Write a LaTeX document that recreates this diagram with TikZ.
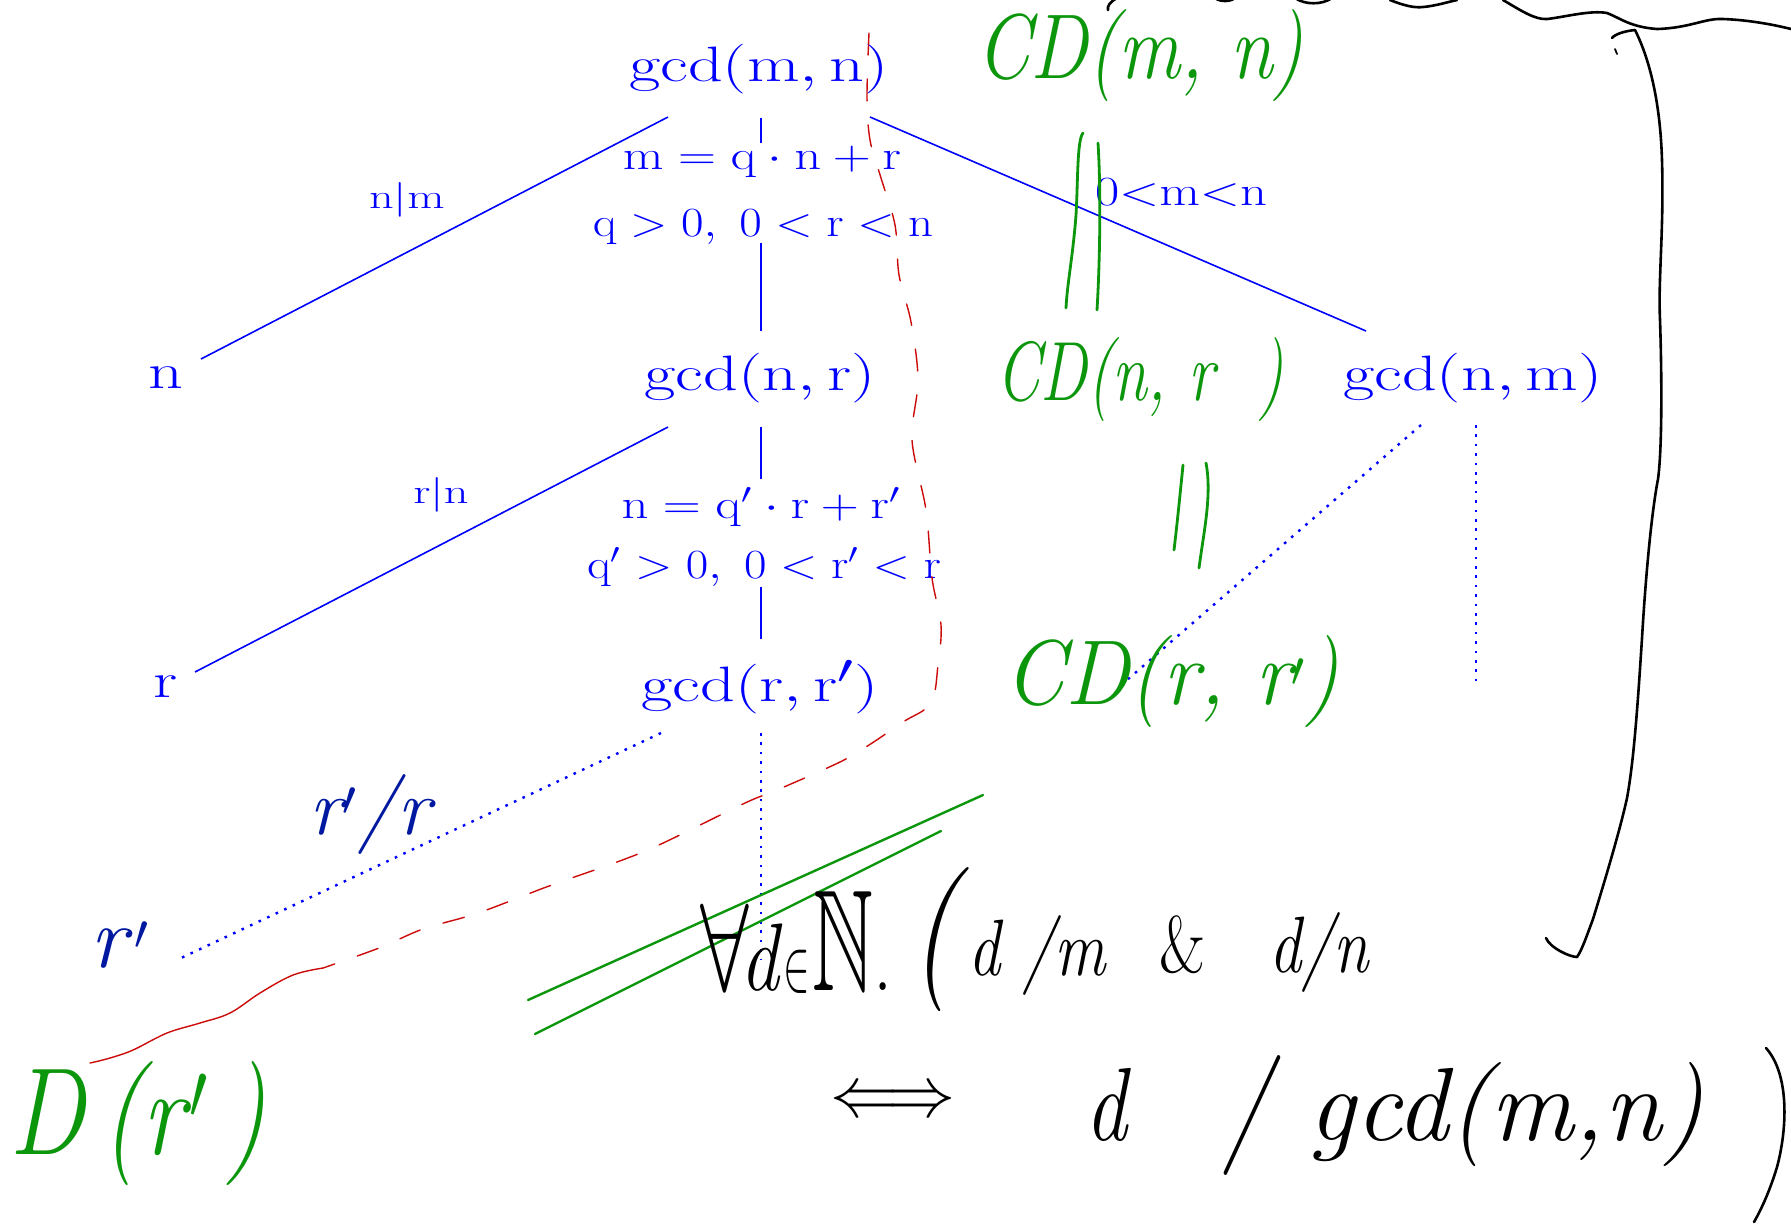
\documentclass[tikz,border=0pt]{standalone}
\usepackage{amssymb}
\usepackage{graphicx}
\definecolor{tblue}{RGB}{0,0,255}
\definecolor{hnavy}{RGB}{0,25,160}
\definecolor{hgreen}{RGB}{12,150,12}
\definecolor{hred}{RGB}{205,10,10}
\newcommand{\ur}[1]{\mathrm{#1}}
\begin{document}
\begin{tikzpicture}[x=0.5pt,y=-0.5pt,
  tree/.style={draw=tblue, line width=0.8pt},
  dotline/.style={draw=tblue, line width=1.2pt, dash pattern=on 1.3pt off 3.4pt},
  big/.style={text=tblue, inner sep=0pt, xscale=1.37, font=\fontsize{30}{34}\selectfont},
  eqn/.style={text=tblue, inner sep=0pt, xscale=1.27, font=\fontsize{20}{24}\selectfont},
  lab/.style={text=tblue, inner sep=0pt, xscale=1.4, font=\fontsize{16}{19}\selectfont},
  hwg/.style={text=hgreen, inner sep=0pt},
  hwb/.style={text=hnavy, inner sep=0pt},
  hwk/.style={text=black, inner sep=0pt},
  gstroke/.style={draw=hgreen, line width=1.4pt, line cap=round},
  kstroke/.style={draw=black, line width=1.3pt, line cap=round, line join=round},
  rstroke/.style={draw=hred, line width=0.7pt, line cap=round}]
\fill[white] (0,0) rectangle (1791,1223);
\useasboundingbox (0,0) rectangle (1791,1223);

% ---------------- typeset tree nodes ----------------
\node[big] (gm) at (759,69) {$\ur{gcd}(\ur{m},\ur{n})$};
\node[big] (n) at (166,378) {$\ur{n}$};
\node[big] (gnr) at (760,378) {$\ur{gcd}(\ur{n},\ur{r})$};
\node[big] (gnm) at (1473,378) {$\ur{gcd}(\ur{n},\ur{m})$};
\node[big] (r) at (166,687) {$\ur{r}$};
\node[big] (grr) at (760,687) {$\ur{gcd}(\ur{r},\ur{r}')$};

\node[eqn] (e1) at (762,162) {$\ur{m}=\ur{q}\cdot \ur{n}+\ur{r}$};
\node[eqn, xscale=0.93] (e2) at (763,227) {$\ur{q}>0,\ 0<\ur{r}<\ur{n}$};
\node[eqn] (e3) at (761,507) {$\ur{n}=\ur{q}'\cdot \ur{r}+\ur{r}'$};
\node[eqn, xscale=0.93] (e4) at (764,567) {$\ur{q}'>0,\ 0<\ur{r}'<\ur{r}$};
\node[eqn] (lmn) at (1181,193) {$0{<}\ur{m}{<}\ur{n}$};
\node[lab] (ldm) at (407,200) {$\ur{n}|\ur{m}$};
\node[lab] (ldn) at (441,495) {$\ur{r}|\ur{n}$};

% connector end points
\coordinate (a1) at (668,117);  \coordinate (a2) at (201,359);
\coordinate (b1) at (870,117);  \coordinate (b2) at (1366,331);
\coordinate (c1) at (761,118);  \coordinate (c2) at (761,143);
\coordinate (c3) at (761,243);  \coordinate (c4) at (761,331);
\coordinate (d1) at (668,427);  \coordinate (d2) at (195,672);
\coordinate (f1) at (761,427);  \coordinate (f2) at (761,479);
\coordinate (f3) at (761,587);  \coordinate (f4) at (761,639);
\coordinate (g1) at (661,733);  \coordinate (g2) at (181,958);
\coordinate (h1) at (761,733);  \coordinate (h2) at (761,960);
\coordinate (k1) at (1421,425); \coordinate (k2) at (1127,680);
\coordinate (m1) at (1476,425); \coordinate (m2) at (1476,682);

\draw[tree] (a1) -- (a2);
\draw[tree] (b1) -- (b2);
\draw[tree] (c1) -- (c2);
\draw[tree] (c3) -- (c4);
\draw[tree] (d1) -- (d2);
\draw[tree] (f1) -- (f2);
\draw[tree] (f3) -- (f4);
\draw[dotline] (g1) -- (g2);
\draw[dotline] (h1) -- (h2);
\draw[dotline] (k1) -- (k2);
\draw[dotline] (m1) -- (m2);

% ---------------- red dashed curve ----------------
\draw[rstroke, dash pattern=on 11pt off 12pt] plot[smooth, tension=0.55] coordinates {(869,33) (867,97) (870,140) (881,178) (895,225) (899,275) (911,322) (918,380) (912,440) (926,510) (932,578) (941,625) (938,665) (931,703) (903,722) (869,745) (840,762) (777,790) (745,803) (661,844) (617,862) (549,886) (478,913) (423,929) (379,948) (323,968)};
\draw[rstroke] plot[smooth, tension=0.6] coordinates {(323,968) (293,975) (260,993) (230,1013) (200,1023) (167,1033) (133,1050) (110,1058) (90,1063)};

% ---------------- green handwriting ----------------
\node[hwg, xscale=0.84, font=\fontsize{46}{50}\selectfont] (cdmn) at (1140,56) {\textit{CD(m, n)}};
\node[hwg, xscale=0.75, font=\fontsize{42}{46}\selectfont] (cdnr) at (1140,380) {\textit{CD(n, r\ \ )}};
\node[hwg, xscale=0.94, font=\fontsize{46}{50}\selectfont] (cdrr) at (1172,682) {\textit{CD(r, r$'$)}};
\node[hwg, xscale=0.82, font=\fontsize{62}{66}\selectfont] (dr) at (138,1124) {\textit{D\,(r\kern3pt\raisebox{4pt}{\scalebox{1.6}{$'$}}\,)}};

\draw[gstroke] (1083,133) .. controls (1077,140) and (1078,180) .. (1076,215) .. controls (1073,255) and (1067,285) .. (1066,308);
\draw[gstroke] (1098,143) .. controls (1101,190) and (1100,260) .. (1097,310);
\draw[gstroke] (1183,465) .. controls (1180,495) and (1177,525) .. (1174,550);
\draw[gstroke] (1206,463) .. controls (1212,495) and (1204,530) .. (1199,568);

\draw[gstroke, line width=1.2pt] (983,795) -- (528,1000);
\draw[gstroke, line width=1.2pt] (941,831) -- (535,1034);

% ---------------- blue handwriting ----------------
\node[hwb, font=\fontsize{40}{44}\selectfont] (rr) at (373,814) {\textit{r$'$/r}};
\node[hwb, font=\fontsize{44}{48}\selectfont] (rp) at (120,945) {\textit{r$\,'$}};

% ---------------- black handwriting ----------------
\node[hwk, xscale=0.8, anchor=base west, font=\fontsize{48}{52}\selectfont] (t1) at (700,990) {\scalebox{2.2}[2.5]{$\forall$}\kern-5pt\textit{d}\scalebox{1}[1.5]{$\in$}\kern2pt\scalebox{1.1}[1.5]{$\mathbb{N}$}.};
\node[hwk, xscale=0.8, anchor=base west, font=\fontsize{40}{44}\selectfont] (t2) at (910,975) {{\fontsize{72}{72}\selectfont\textit{(}}\textit{d\,\,/m}};
\node[hwk, xscale=0.8, anchor=base west, font=\fontsize{40}{44}\selectfont] (t3) at (1159,972) {\textup{\&}\quad\textit{d/n}};
\node[hwk, anchor=west] (t4) at (830,1103) {\scalebox{3.4}[3.6]{$\Longleftrightarrow$}};
\node[hwk, xscale=0.8, anchor=base west, font=\fontsize{52}{56}\selectfont] (t5) at (1085,1140) {\textit{d}};
\node[hwk, xscale=0.8, anchor=base west, font=\fontsize{60}{64}\selectfont] (t6) at (1222,1145) {\textit{/}};
\node[hwk, anchor=base west, font=\fontsize{52}{56}\selectfont] (t7) at (1308,1140) {\textit{gcd(m,n)}};

% big closing parenthesis and bracket
\draw[kstroke] (1766,1048) .. controls (1790,1075) and (1787,1130) .. (1777,1167) .. controls (1770,1190) and (1762,1208) .. (1754,1222);
\draw[kstroke] (1612,38) .. controls (1615,34) and (1625,31) .. (1635,30)
  .. controls (1645,50) and (1660,90) .. (1662,161)
  .. controls (1664,230) and (1658,280) .. (1660,320)
  .. controls (1662,380) and (1662,450) .. (1658,479)
  .. controls (1652,510) and (1646,570) .. (1642,638)
  .. controls (1638,700) and (1634,760) .. (1627,798)
  .. controls (1620,830) and (1605,880) .. (1593,919)
  .. controls (1587,935) and (1582,950) .. (1577,957)
  .. controls (1570,957) and (1550,948) .. (1546,938);
\draw[kstroke, line width=0.9pt] (1615,49) -- (1617,54);

% top wavy strokes
\draw[kstroke] (1390,0) .. controls (1405,6) and (1415,8) .. (1423,7) .. controls (1435,6) and (1448,2) .. (1457,0);
\draw[kstroke] (1503,0) .. controls (1520,10) and (1535,20) .. (1547,19)
  .. controls (1565,17) and (1590,10) .. (1607,13)
  .. controls (1620,18) and (1630,27) .. (1657,29)
  .. controls (1690,28) and (1705,18) .. (1723,19)
  .. controls (1750,20) and (1775,25) .. (1791,29);
\draw[kstroke] (1117,-2) .. controls (1110,2) and (1107,6) .. (1108,10);
\draw[kstroke] (1215,-2) .. controls (1220,2) and (1230,2) .. (1235,-2);
\draw[kstroke] (1295,-2) .. controls (1305,5) and (1322,5) .. (1332,-2);
\end{tikzpicture}
\end{document}
